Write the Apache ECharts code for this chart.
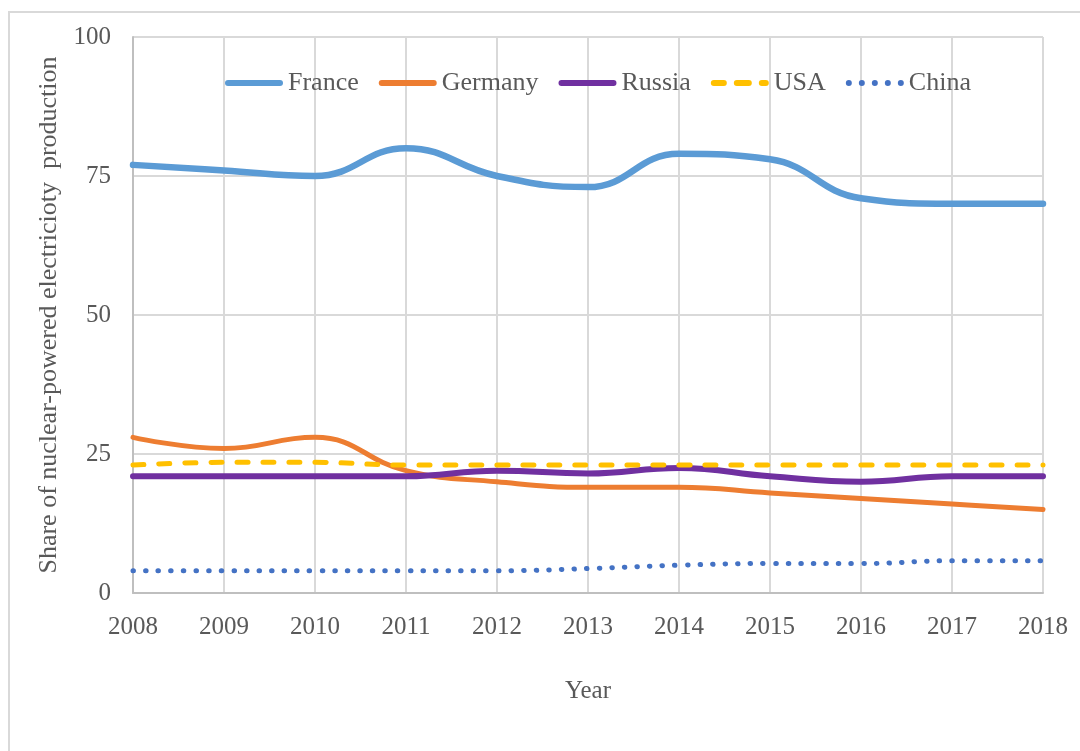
<!DOCTYPE html>
<html>
<head>
<meta charset="utf-8">
<script src="https://cdn.jsdelivr.net/npm/echarts@6/dist/echarts.min.js"></script>
<style>
  html, body { margin: 0; padding: 0; background: #fff; overflow: hidden; }
  #frame { position: absolute; left: 8px; top: 11px; width: 1100px; height: 800px; border: 2px solid #d9d9d9; }
  #chart { position: absolute; left: 0; top: 0; width: 1080px; height: 751px; }
</style>
</head>
<body>
<div id="frame"></div>
<div id="chart"></div>
<script>
// values
const years = ['2008', '2009', '2010', '2011', '2012', '2013', '2014', '2015', '2016', '2017', '2018']
const france = [77, 76, 75, 80, 75, 73, 79, 78, 71, 70, 70]
const germany = [28, 26, 28, 22, 20, 19, 19, 18, 17, 16, 15]
const russia = [21, 21, 21, 21, 22, 21.5, 22.5, 21, 20, 21, 21]
const usa = [23, 23.5, 23.5, 23, 23, 23, 23, 23, 23, 23, 23]
const china = [4, 4, 4, 4, 4, 4.4, 5, 5.3, 5.3, 5.8, 5.8]

const serif = '"Liberation Serif", "Times New Roman", serif'
const textColor = '#595959'

// legend icons drawn like the excel ones (solid bar, dashes, dots)
const iconSolid = 'path://M3,0 H55 A3,3 0 0 1 55,6 H3 A3,3 0 0 1 3,0 Z'
const iconDash = 'path://M3,0 H13 A3,3 0 0 1 13,6 H3 A3,3 0 0 1 3,0 Z M26,0 H38 A3,3 0 0 1 38,6 H26 A3,3 0 0 1 26,0 Z M51,0 H55 A3,3 0 0 1 55,6 H51 A3,3 0 0 1 51,0 Z'
const iconDot = 'path://M0,3 A3,3 0 1 0 6,3 A3,3 0 1 0 0,3 Z M13,3 A3,3 0 1 0 19,3 A3,3 0 1 0 13,3 Z M26,3 A3,3 0 1 0 32,3 A3,3 0 1 0 26,3 Z M39,3 A3,3 0 1 0 45,3 A3,3 0 1 0 39,3 Z M52,3 A3,3 0 1 0 58,3 A3,3 0 1 0 52,3 Z'

function lineSeries (name, data, color, width, dash) {
  return {
    name: name,
    type: 'line',
    data: data,
    smooth: 0.45,
    symbol: 'none',
    color: color,
    itemStyle: { color: color },
    lineStyle: {
      color: color,
      width: width,
      type: dash || 'solid',
      cap: 'round'
    },
    emphasis: { disabled: true }
  }
}

const chart = echarts.init(document.getElementById('chart'), null, { renderer: 'canvas' })
chart.setOption({
  animation: false,
  textStyle: { fontFamily: serif, color: textColor },
  grid: { left: 133, right: 37, top: 37, bottom: 158 },
  legend: {
    top: 65,
    left: 220,
    itemWidth: 58,
    itemHeight: 6,
    itemGap: 20,
    textStyle: { fontFamily: serif, fontSize: 26, color: textColor },
    data: [
      { name: 'France', icon: iconSolid },
      { name: 'Germany', icon: iconSolid },
      { name: 'Russia', icon: iconSolid },
      { name: 'USA', icon: iconDash },
      { name: 'China', icon: iconDot }
    ]
  },
  xAxis: {
    type: 'category',
    data: years,
    boundaryGap: false,
    name: 'Year',
    nameLocation: 'middle',
    nameGap: 86,
    nameTextStyle: { fontFamily: serif, fontSize: 25, color: textColor },
    axisLine: { lineStyle: { color: '#bfbfbf', width: 2 } },
    axisTick: { show: false },
    axisLabel: { fontFamily: serif, fontSize: 25, color: textColor, margin: 22 },
    splitLine: { show: true, lineStyle: { color: '#d9d9d9', width: 2 } }
  },
  yAxis: {
    type: 'value',
    min: 0,
    max: 100,
    interval: 25,
    name: 'Share of nuclear-powered electricioty  production',
    nameLocation: 'middle',
    nameGap: 62,
    nameTextStyle: { fontFamily: serif, fontSize: 26, color: textColor },
    axisLine: { show: true, lineStyle: { color: '#bfbfbf', width: 2 } },
    axisTick: { show: false },
    axisLabel: { fontFamily: serif, fontSize: 25, color: textColor, margin: 22 },
    splitLine: { show: true, lineStyle: { color: '#d9d9d9', width: 2 } }
  },
  series: [
    lineSeries('France', france, '#5b9bd5', 6.5),
    lineSeries('Germany', germany, '#ed7d31', 5),
    lineSeries('Russia', russia, '#7030a0', 6),
    lineSeries('USA', usa, '#ffc000', 5, [11, 15]),
    lineSeries('China', china, '#4472c4', 5, [0.5, 12.1])
  ]
})
</script>
</body>
</html>
